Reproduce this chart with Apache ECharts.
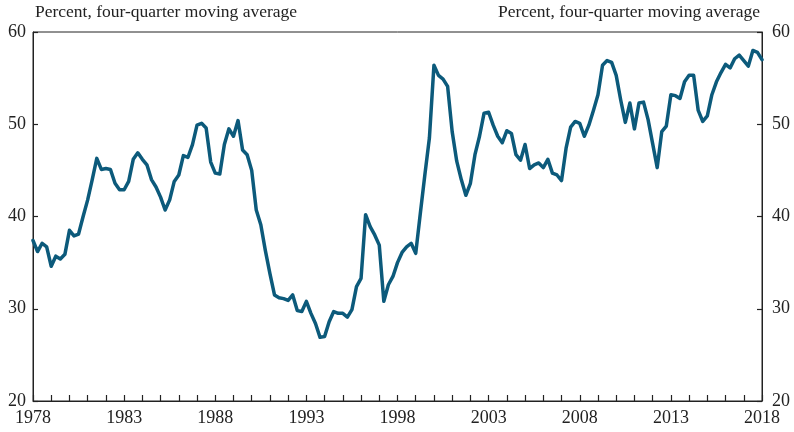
<!DOCTYPE html>
<html>
<head>
<meta charset="utf-8">
<script src="https://cdn.jsdelivr.net/npm/echarts@6/dist/echarts.min.js"></script>
<style>
  html, body { margin: 0; padding: 0; background: #fff; }
  #chart { width: 794px; height: 432px; }
</style>
</head>
<body>
<div id="chart"></div>
<script>
// quarterly, first quarter of 1978 onward
const startYear = 1978;
const shareValues = [
  // 1978-1981
  37.4, 36.2, 37.1, 36.7, 34.6, 35.7, 35.4, 35.9, 38.5, 37.9, 38.1, 40.0, 41.8, 44.0, 46.3, 45.1,
  // 1982-1985
  45.2, 45.1, 43.6, 42.9, 42.9, 43.8, 46.2, 46.9, 46.2, 45.6, 44.0, 43.2, 42.1, 40.7, 41.8, 43.8,
  // 1986-1989
  44.5, 46.6, 46.4, 47.8, 49.9, 50.1, 49.6, 45.9, 44.7, 44.6, 47.8, 49.5, 48.7, 50.4, 47.2, 46.7,
  // 1990-1993
  45.0, 40.7, 39.1, 36.3, 33.8, 31.5, 31.2, 31.1, 30.9, 31.5, 29.8, 29.7, 30.8, 29.5, 28.4, 26.9,
  // 1994-1997
  27.0, 28.6, 29.7, 29.5, 29.5, 29.1, 29.9, 32.4, 33.3, 40.2, 38.9, 38.0, 36.9, 30.8, 32.6, 33.5,
  // 1998-2001
  35.0, 36.1, 36.7, 37.1, 36.0, 40.3, 44.5, 48.5, 56.4, 55.3, 54.9, 54.1, 49.2, 46.0, 44.0, 42.3,
  // 2002-2005
  43.6, 46.7, 48.7, 51.2, 51.3, 49.9, 48.7, 48.0, 49.3, 49.0, 46.7, 46.1, 47.8, 45.2, 45.6, 45.8,
  // 2006-2009
  45.3, 46.2, 44.7, 44.5, 43.9, 47.4, 49.7, 50.3, 50.1, 48.7, 49.9, 51.5, 53.2, 56.4, 56.9, 56.7,
  // 2010-2013
  55.3, 52.6, 50.2, 52.3, 49.5, 52.3, 52.4, 50.5, 47.9, 45.3, 49.2, 49.8, 53.2, 53.1, 52.8, 54.6,
  // 2014-2017
  55.3, 55.3, 51.5, 50.3, 50.9, 53.2, 54.6, 55.6, 56.5, 56.1, 57.1, 57.5, 56.9, 56.3, 58.0, 57.8,
  // 2018
  57.0
];
const xTicks = [1978, 1983, 1988, 1993, 1998, 2003, 2008, 2013, 2018];
const yTicks = [20, 30, 40, 50, 60];
const unitLabel = "Percent, four-quarter moving average";

const lineColor = "#0c5a7b";
const inkColor = "#222";
const fontFamily = "'Liberation Serif', 'DejaVu Serif', serif";

const points = shareValues.map((v, i) => [startYear + i / 4, v]);

const myChart = echarts.init(document.getElementById("chart"));

const yAxisBase = {
  type: "value",
  min: yTicks[0],
  max: yTicks[yTicks.length - 1],
  interval: 10,
  axisLine: { show: true, lineStyle: { color: inkColor, width: 1 } },
  axisTick: { show: true, inside: true, length: 5, lineStyle: { color: inkColor, width: 1.2 } },
  splitLine: { show: false },
};

const options = {
  animation: false,
  grid: {
    left: 33,
    right: 32,
    top: 32,
    bottom: 31,
    show: true,
    borderColor: inkColor,
    borderWidth: 1,
  },
  graphic: [
    {
      type: "text",
      left: 35,
      top: 3,
      style: { text: unitLabel, font: "17.5px " + fontFamily, fill: inkColor },
    },
    {
      type: "text",
      right: 34,
      top: 3,
      style: { text: unitLabel, font: "17.5px " + fontFamily, fill: inkColor, align: "right" },
    },
  ],
  xAxis: {
    type: "value",
    min: 1978,
    max: 2018,
    interval: 1,
    axisLine: { show: true, onZero: false, lineStyle: { color: inkColor, width: 1 } },
    axisTick: { show: true, inside: true, length: 6, lineStyle: { color: inkColor, width: 1.2 } },
    splitLine: { show: false },
    axisLabel: {
      color: inkColor,
      fontFamily: fontFamily,
      fontSize: 18,
      margin: 8,
      showMinLabel: true,
      showMaxLabel: true,
      hideOverlap: false,
      formatter: (val) => (xTicks.includes(val) ? String(val) : ""),
    },
  },
  yAxis: [
    Object.assign({}, yAxisBase, {
      position: "left",
      axisLabel: { color: inkColor, fontFamily: fontFamily, fontSize: 18, margin: 7 },
    }),
    Object.assign({}, yAxisBase, {
      position: "right",
      axisLabel: { color: inkColor, fontFamily: fontFamily, fontSize: 18, margin: 10 },
    }),
  ],
  series: [
    {
      name: "share",
      type: "line",
      data: points,
      yAxisIndex: 0,
      symbol: "none",
      lineStyle: { color: lineColor, width: 3.5, join: "round", cap: "round" },
    },
  ],
};

myChart.setOption(options);
</script>
</body>
</html>
